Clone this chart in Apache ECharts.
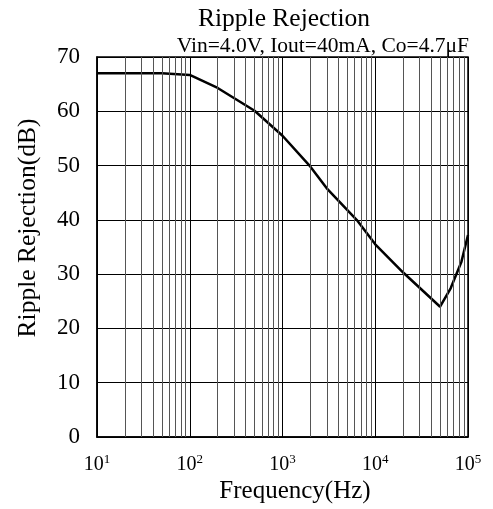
<!DOCTYPE html>
<html><head><meta charset="utf-8">
<script src="https://cdn.jsdelivr.net/npm/echarts@6/dist/echarts.min.js"></script>
<style>html,body{margin:0;padding:0;background:#fff}#c{width:493px;height:509px}</style>
</head><body><div id="c"></div>
<script>
const freq = [10, 50, 100, 200, 500, 1000, 2000, 3000, 6300, 10000, 20000, 50000, 65000, 85000, 100000];
const rejection = [67, 67, 66.7, 64.3, 60.1, 55.5, 49.8, 45.8, 40.0, 35.5, 30.3, 24, 27.4, 32.3, 37.2];
const minorFreqs = [];
[10, 100, 1000, 10000].forEach(d => { for (let k = 2; k <= 9; k++) minorFreqs.push(d * k); });
const exps = {10: '1', 100: '2', 1000: '3', 10000: '4', 100000: '5'};
const titleText = 'Ripple Rejection';
const subtitleText = 'Vin=4.0V, Iout=40mA, Co=4.7μF';
const xName = 'Frequency(Hz)';
const yName = 'Ripple Rejection(dB)';
const F = 'Liberation Serif, Times New Roman, serif';
const chart = echarts.init(document.getElementById('c'));
chart.setOption({
  animation: false,
  title: [
    {text: titleText, left: 279, top: 1, textAlign: 'center',
     textStyle: {fontFamily: F, fontSize: 25.5, fontWeight: 'normal', color: '#000'}},
    {text: subtitleText, right: 19, top: 30,
     textStyle: {fontFamily: F, fontSize: 21.5, fontWeight: 'normal', color: '#000'}}
  ],
  graphic: [
    {type: 'text', x: 28, y: 228, rotation: Math.PI / 2,
     style: {text: yName, font: '25.5px ' + F, fill: '#000', textAlign: 'center', textVerticalAlign: 'middle'}},
    {type: 'text', x: 295, y: 491,
     style: {text: xName, font: '25px ' + F, fill: '#000', textAlign: 'center', textVerticalAlign: 'middle'}}
  ],
  grid: {left: 97, right: 25, top: 57, bottom: 72, show: true, borderColor: '#000', borderWidth: 1.5, backgroundColor: 'transparent'},
  xAxis: {
    type: 'log', logBase: 10, min: 10, max: 100000,
    axisLine: {lineStyle: {color: '#000', width: 1.5}},
    axisTick: {show: false},
    splitLine: {show: true, lineStyle: {color: '#000', width: 1}},
    axisLabel: {
      margin: 16,
      formatter: v => '{b|10}{s|' + (exps[Math.round(v)] || '') + '}',
      rich: {b: {fontFamily: F, fontSize: 20, color: '#000'},
             s: {fontFamily: F, fontSize: 13, color: '#000', padding: [0, 0, 10, 0]}}
    }
  },
  yAxis: {
    type: 'value', min: 0, max: 70, interval: 10,
    axisLine: {show: true, lineStyle: {color: '#000', width: 1.5}},
    axisTick: {show: false},
    splitLine: {show: true, lineStyle: {color: '#000', width: 1}},
    axisLabel: {margin: 17, fontFamily: F, fontSize: 23, color: '#000'}
  },
  series: [{
    type: 'line', data: freq.map((f, i) => [f, rejection[i]]),
    symbol: 'none', lineStyle: {color: '#000', width: 2.5},
    markLine: {
      silent: true, symbol: 'none', label: {show: false},
      lineStyle: {color: '#555', width: 1, type: 'solid'},
      data: minorFreqs.map(f => ({xAxis: f}))
    }
  }]
});
</script></body></html>
